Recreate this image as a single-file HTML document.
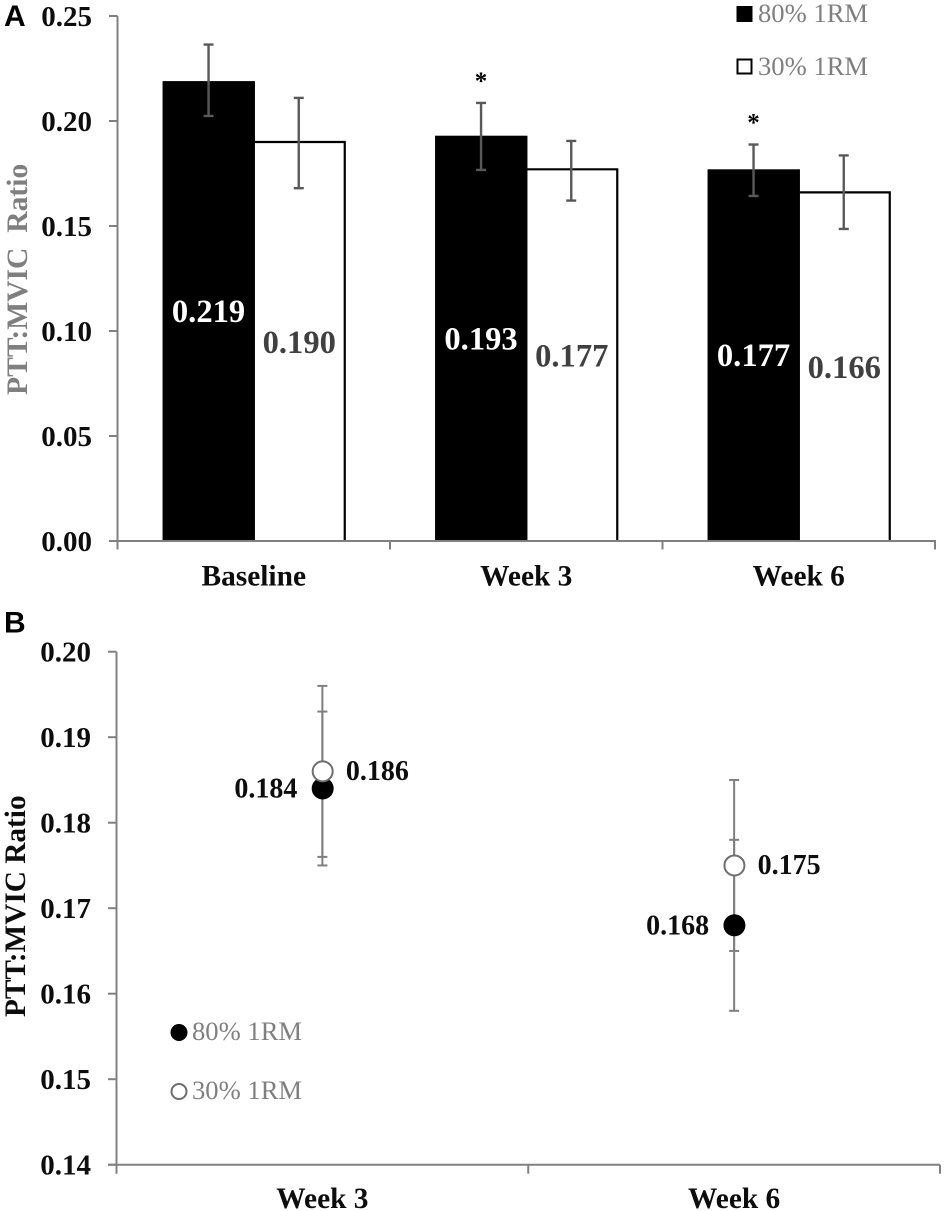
<!DOCTYPE html>
<html lang="en">
<head>
<meta charset="utf-8">
<title>PTT:MVIC Ratio chart</title>
<style>
html,body{margin:0;padding:0;background:#fff;}
svg{display:block;}
text{font-family:"Liberation Serif",serif;}
.tick{font-size:29px;font-weight:bold;fill:#0d0d0d;}
.cat{font-size:29.4px;font-weight:bold;fill:#0d0d0d;}
.letter{font-family:"Liberation Sans",sans-serif;font-size:30px;font-weight:bold;fill:#000;}
.legend{font-size:26.6px;fill:#7f7f7f;}
</style>
</head>
<body>
<svg id="figure" xmlns="http://www.w3.org/2000/svg" width="945" height="1211" viewBox="0 0 945 1211">
  <rect x="0" y="0" width="945" height="1211" fill="#fff"/>
  <text class="letter" x="4" y="26">A</text>
  <text class="letter" x="4" y="632.5">B</text>
  <text transform="translate(27,395) rotate(-90)" font-size="29.6" font-weight="bold" fill="#7f7f7f" style="white-space:pre" xml:space="preserve">PTT:MVIC  Ratio</text>
  <text transform="translate(25,1017) rotate(-90)" font-size="29.3" font-weight="bold" fill="#0d0d0d">PTT:MVIC Ratio</text>
  <g id="panel-a"></g>
  <g id="panel-b"></g>
  <g>
    <rect x="736.5" y="6" width="16" height="16" fill="#000"/>
    <text class="legend" x="758" y="22">80% 1RM</text>
    <rect x="737.5" y="59.5" width="14" height="14" fill="#fff" stroke="#000" stroke-width="2"/>
    <text class="legend" x="758" y="75">30% 1RM</text>
  </g>
  <g>
    <circle cx="179" cy="1032.5" r="8.5" fill="#000"/>
    <text class="legend" x="192" y="1040">80% 1RM</text>
    <circle cx="179" cy="1091.5" r="7.5" fill="#fff" stroke="#6e6e6e" stroke-width="2"/>
    <text class="legend" x="192" y="1099">30% 1RM</text>
  </g>
</svg>
<script>
// Panel A data
var barCategories = ['Baseline', 'Week 3', 'Week 6'];
var barTicks = ['0.00', '0.05', '0.10', '0.15', '0.20', '0.25'];
var bars80 = [0.219, 0.193, 0.177];
var bars30 = [0.190, 0.177, 0.166];
var bars80Upper = [0.2364, 0.2086, 0.1888];
var bars80Lower = [0.2024, 0.1767, 0.1643];
var bars30Upper = [0.2110, 0.1905, 0.1836];
var bars30Lower = [0.1680, 0.1621, 0.1486];
var barSignificant = [false, true, true];

// Panel B data
var pointCategories = ['Week 3', 'Week 6'];
var pointTicks = ['0.14', '0.15', '0.16', '0.17', '0.18', '0.19', '0.20'];
var points80 = [0.184, 0.168];
var points30 = [0.186, 0.175];
var points80Upper = [0.193, 0.178];
var points80Lower = [0.175, 0.158];
var points30Upper = [0.196, 0.185];
var points30Lower = [0.176, 0.165];

var NS = 'http://www.w3.org/2000/svg';

function make(parent, tag, attrs, name, text) {
  var el = document.createElementNS(NS, tag);
  for (var k in attrs) el.setAttribute(k, attrs[k]);
  
  
  if (text !== undefined) el.textContent = text;
  parent.appendChild(el);
  return el;
}

function line(parent, x1, y1, x2, y2, color, width, name) {
  return make(parent, 'line', {x1: x1, y1: y1, x2: x2, y2: y2, stroke: color, 'stroke-width': width}, name);
}

function errorBar(parent, x, yTop, yBottom, cap, color, width, name) {
  line(parent, x, yTop, x, yBottom, color, width, name + '-stem');
  line(parent, x - cap, yTop, x + cap, yTop, color, width, name + '-cap-upper');
  line(parent, x - cap, yBottom, x + cap, yBottom, color, width, name + '-cap-lower');
}

/* ---------- Panel A ---------- */
var ga = document.getElementById('panel-a');
var axL = 117.5, axR = 935, ayB = 541, ayT = 16;
var aMax = 0.25;
function ax(i) { return axL + (axR - axL) * (i + 0.5) / barCategories.length; }
function ay(v) { return ayB - (ayB - ayT) * v / aMax; }
var barW = 91;

barCategories.forEach(function (cat, i) {
  var c = ax(i);
  var x80 = c - barW - 0.2, x30 = c;
  make(ga, 'rect', {x: x80, y: ay(bars80[i]), width: barW + 1.4, height: ayB - ay(bars80[i]), fill: '#000'}, 'bar-80-' + i);
  make(ga, 'path', {
    d: 'M' + (x30 + 1) + ' ' + ay(bars30[i]) + 'H' + (x30 + barW) + 'V' + ayB,
    fill: 'none', stroke: '#000', 'stroke-width': 2.2
  }, 'bar-30-' + i);
  var ex80 = x80 + (barW + 1) / 2, ex30 = x30 + barW / 2 - 0.5;
  errorBar(ga, ex80, ay(bars80Upper[i]), ay(bars80Lower[i]), 5, '#595959', 2.4, 'bar-80-error-' + i);
  errorBar(ga, ex30, ay(bars30Upper[i]), ay(bars30Lower[i]), 5, '#595959', 2.4, 'bar-30-error-' + i);
  make(ga, 'text', {x: ex80, y: ay(bars80[i] / 2) + 11, 'text-anchor': 'middle', 'font-size': 32.6, 'font-weight': 'bold', fill: '#fff'}, 'bar-80-value-' + i, bars80[i].toFixed(3));
  make(ga, 'text', {x: ex30 + 0.5, y: ay(bars30[i] / 2) + 11.5, 'text-anchor': 'middle', 'font-size': 32.6, 'font-weight': 'bold', fill: '#404040'}, 'bar-30-value-' + i, bars30[i].toFixed(3));
  if (barSignificant[i]) {
    make(ga, 'text', {x: ex80, y: ay(bars80Upper[i]) - 14, 'text-anchor': 'middle', 'font-size': 25, 'font-weight': 'bold', fill: '#000'}, 'significance-marker-' + i, '*');
  }
  make(ga, 'text', {x: c, y: 585.5, 'text-anchor': 'middle', 'class': 'cat'}, 'x-label-a-' + i, cat);
});

line(ga, axL, ayT, axL, ayB, '#808080', 2, 'panel-a-y-axis');
line(ga, axL - 8.5, ayB, axR + 1, ayB, '#808080', 2, 'panel-a-x-axis');
barTicks.forEach(function (t, i) {
  var y = ay(parseFloat(t));
  line(ga, axL - 8.5, y, axL, y, '#808080', 2, 'panel-a-y-tick-' + i);
  make(ga, 'text', {x: 92, y: y + 10, 'text-anchor': 'end', 'class': 'tick'}, 'panel-a-y-tick-label-' + i, t);
});
for (var ia = 0; ia <= barCategories.length; ia++) {
  var tx = axL + (axR - axL) * ia / barCategories.length;
  line(ga, tx, ayB, tx, ayB + 8.5, '#808080', 2, 'panel-a-x-tick-' + ia);
}

/* ---------- Panel B ---------- */
var gb = document.getElementById('panel-b');
var bxL = 116.5, bxR = 940, byB = 1164.7, byT = 651.7;
var bMin = 0.14, bMax = 0.20;
function bx(i) { return bxL + (bxR - bxL) * (i + 0.5) / pointCategories.length; }
function by(v) { return byB - (byB - byT) * (v - bMin) / (bMax - bMin); }

line(gb, bxL, byT, bxL, byB + 9, '#808080', 2, 'panel-b-y-axis');
line(gb, bxL - 8.5, byB, bxR, byB, '#808080', 2, 'panel-b-x-axis');
pointTicks.forEach(function (t, i) {
  var y = by(parseFloat(t));
  line(gb, bxL - 8.5, y, bxL, y, '#808080', 2, 'panel-b-y-tick-' + i);
  make(gb, 'text', {x: 91, y: y + 10, 'text-anchor': 'end', 'class': 'tick'}, 'panel-b-y-tick-label-' + i, t);
});
for (var ib = 1; ib <= pointCategories.length; ib++) {
  var tbx = bxL + (bxR - bxL) * ib / pointCategories.length;
  line(gb, tbx, byB, tbx, byB + 9, '#808080', 2, 'panel-b-x-tick-' + ib);
}

pointCategories.forEach(function (cat, i) {
  var c = bx(i);
  errorBar(gb, c, by(points30Upper[i]), by(points30Lower[i]), 5, '#7f7f7f', 2, 'point-30-error-' + i);
  errorBar(gb, c, by(points80Upper[i]), by(points80Lower[i]), 5, '#7f7f7f', 2, 'point-80-error-' + i);
  make(gb, 'circle', {cx: c + 0.3, cy: by(points80[i]), r: 11, fill: '#000'}, 'point-80-' + i);
  make(gb, 'circle', {cx: c + 0.3, cy: by(points30[i]), r: 10, fill: '#fff', stroke: '#6e6e6e', 'stroke-width': 2}, 'point-30-' + i);
  make(gb, 'text', {x: c - 25, y: by(points80[i]) + 9, 'text-anchor': 'end', 'font-size': 28, 'font-weight': 'bold', fill: '#0d0d0d'}, 'point-80-value-' + i, points80[i].toFixed(3));
  make(gb, 'text', {x: c + 23.5, y: by(points30[i]) + 8.5, 'font-size': 28, 'font-weight': 'bold', fill: '#0d0d0d'}, 'point-30-value-' + i, points30[i].toFixed(3));
  make(gb, 'text', {x: c, y: 1208, 'text-anchor': 'middle', 'class': 'cat'}, 'x-label-b-' + i, cat);
});
</script>
</body>
</html>
